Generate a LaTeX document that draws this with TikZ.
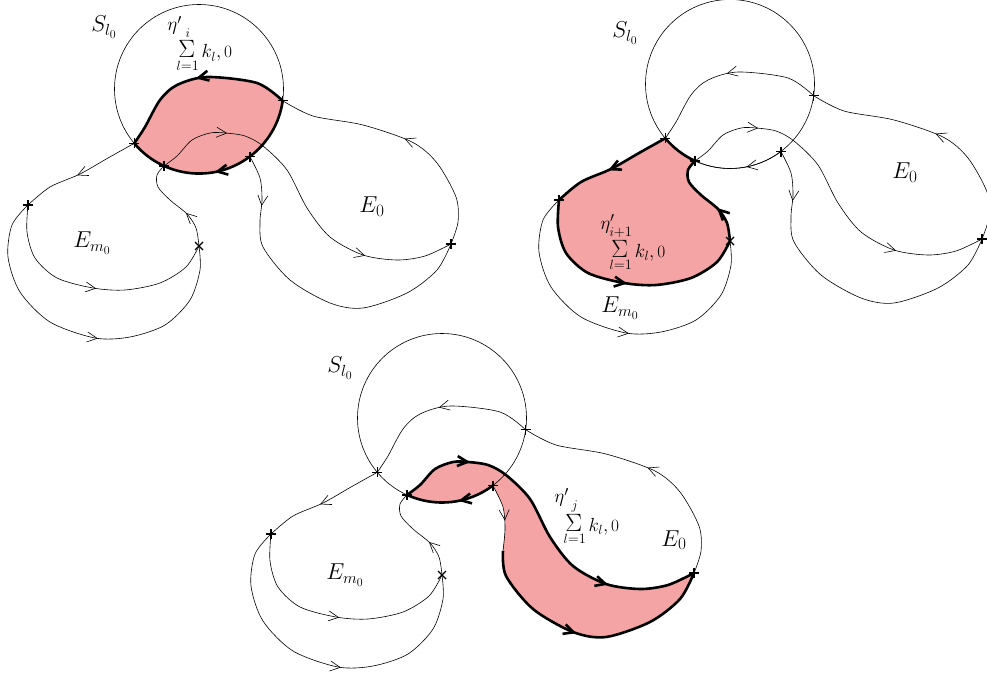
\documentclass[tikz,border=0pt]{standalone}
\usepackage{amsmath}
\usepackage{graphicx}
\DeclareFontShape{OML}{cmm}{m}{it}{<->cmmi12}{\skewchar\font'177}
\usetikzlibrary{arrows.meta,decorations.markings}
\definecolor{pinkfill}{RGB}{244,164,164}
% curve segments (panel-local pixel coordinates)
\def\cAB{plot[smooth] coordinates {(A) (145,127) (160,100) (177,85) (207,77) (257,83) (B)}}
\def\cAF{plot[smooth] coordinates {(A) (108,158) (80,174) (50,187) (F)}}
\def\cFA{plot[smooth] coordinates {(F) (50,187) (80,174) (108,158) (A)}}
\def\cFGin{plot[smooth] coordinates {(F) (27,232) (35,258) (57,278) (93,288) (125,290) (160,283) (186,267) (G)}}
\def\cGFin{plot[smooth] coordinates {(G) (186,267) (160,283) (125,290) (93,288) (57,278) (35,258) (27,232) (F)}}
\def\cFGout{plot[smooth] coordinates {(F) (12,225) (8,257) (20,292) (50,322) (95,338) (130,337) (165,325) (190,300) (200,270) (G)}}
\def\cGC{plot[smooth] coordinates {(G) (196,228) (187,214) (170,200) (158,187) (157,175) (C)}}
\def\cCG{plot[smooth] coordinates {(C) (157,175) (158,187) (170,200) (187,214) (196,228) (G)}}
\def\cCH{plot[smooth] coordinates {(C) (177,156) (192,140) (210,133) (225,133) (245,136) (263,146) (287,170) (307,208) (330,237) (363,255) (397,260) (425,256) (H)}}
\def\cDH{plot[smooth] coordinates {(D) (260,178) (262,200) (M) (263,247) (290,280) (330,303) (363,308) (407,293) (437,270) (H)}}
\def\cHD{plot[smooth] coordinates {(H) (437,270) (407,293) (363,308) (330,303) (290,280) (263,247) (M) (262,200) (260,178) (D)}}
\def\cDM{plot[smooth] coordinates {(D) (260,178) (262,200) (M)}}
\def\cMH{plot[smooth] coordinates {(M) (263,247) (290,280) (330,303) (363,308) (407,293) (437,270) (H)}}
\def\cHB{plot[smooth] coordinates {(H) (458,222) (456,197) (437,163) (412,142) (363,125) (313,116) (B)}}
\edef\LcAB{--\cAB}
\edef\LcCG{--\cCG}
\edef\LcGFin{--\cGFin}
\edef\LcFA{--\cFA}
\edef\LcHD{--\cHD}
\newcommand\basepoints{%
  \coordinate (O) at (199,89);
  \coordinate (A) at (134.3,143.3);
  \coordinate (B) at (282.7,100.8);
  \coordinate (C) at (164.0,165.9);
  \coordinate (D) at (249.9,156.5);
  \coordinate (F) at (28,205);
  \coordinate (G) at (199,246);
  \coordinate (H) at (451,244);
  \coordinate (M) at (260,222);
}
\newcommand\crossp[1]{\draw[ptm] (#1) +(-5,0) -- +(5,0) +(0,-5) -- +(0,5);}
\newcommand\crossx[1]{\draw[ptm] (#1) +(-4,-4) -- +(4,4) +(-4,4) -- +(4,-4);}
\newcommand\allcrosses{\crossp{A}\crossp{B}\crossp{C}\crossp{D}\crossp{F}\crossx{G}\crossp{H}}
\newcommand\bigsig{\mathop{\scalebox{1.45}{$\Sigma$}}}
\newcommand\etalabel[1]{$\eta'_{\textstyle\bigsig\limits_{l=1}^{#1}k_{l},0}$}
\begin{document}
\begin{tikzpicture}[x=1pt,y=-1pt,
  thinl/.style={line width=0.6pt},
  thickl/.style={line width=2.6pt},
  ptm/.style={line width=1.3pt},
  fw/.style={postaction={decorate,decoration={markings,mark=at position #1 with {\arrow{Straight Barb[length=10pt,width=10pt]}}}}},
  bw/.style={postaction={decorate,decoration={markings,mark=at position #1 with {\arrowreversed{Straight Barb[length=10pt,width=10pt]}}}}},
  lab/.style={font=\fontsize{23}{26}\selectfont, inner sep=0pt},
  etalab/.style={font=\fontsize{19}{22}\selectfont, inner sep=0pt},
  pinkarea/.style={fill=pinkfill, draw=none}]
\useasboundingbox (0,0) rectangle (987,677);

% ---------------- Panel 1 ----------------
\begin{scope}
\basepoints
\fill[pinkarea] (B) arc[start angle=8,end angle=140,radius=84.5] \LcAB -- cycle;
\draw[thinl] (O) circle[radius=84.5];
\draw[thinl,fw=0.53] \cAF;
\draw[thinl,fw=0.51] \cFGin;
\draw[thinl,fw=0.54] \cFGout;
\draw[thinl,fw=0.37] \cGC;
\draw[thinl,fw=0.21,fw=0.75] \cCH;
\draw[thinl,fw=0.157] \cDH;
\draw[thinl,fw=0.5] \cHB;
\draw[thickl,bw=0.5] \cAB;
\draw[thickl,fw=0.54] (B) arc[start angle=8,end angle=140,radius=84.5];
\allcrosses
\node[lab] (S1) at (104,27) {$S_{l_0}$};
\node[etalab] (eta1) at (200,44) {\etalabel{i}};
\node[lab] (Em1) at (92,243) {$E_{m_0}$};
\node[lab] (E1) at (372,207) {$E_0$};
\end{scope}

% ---------------- Panel 2 ----------------
\begin{scope}[shift={(531,-5)}]
\basepoints
\fill[pinkarea] (A) arc[start angle=140,end angle=114.5,radius=84.5] \LcCG \LcGFin \LcFA -- cycle;
\draw[thinl] (O) circle[radius=84.5];
\draw[thinl,bw=0.5] \cAB;
\draw[thinl,fw=0.42] (D) arc[start angle=53,end angle=114.5,radius=84.5];
\draw[thinl,fw=0.54] \cFGout;
\draw[thinl,fw=0.21,fw=0.75] \cCH;
\draw[thinl,fw=0.157] \cDH;
\draw[thinl,fw=0.5] \cHB;
\draw[thickl,fw=0.53] \cAF;
\draw[thickl,fw=0.51] \cFGin;
\draw[thickl,fw=0.37] \cGC;
\draw[thickl] (A) arc[start angle=140,end angle=114.5,radius=84.5];
\allcrosses
\node[lab] (S2) at (94,38) {$S_{l_0}$};
\node[etalab] (eta2) at (102,248) {\etalabel{i+1}};
\node[lab] (Em2) at (89,313) {$E_{m_0}$};
\node[lab] (E2) at (374,178) {$E_0$};
\end{scope}

% ---------------- Panel 3 ----------------
\begin{scope}[shift={(243,329)}]
\basepoints
\fill[pinkarea] \cCH \LcHD -- (D) arc[start angle=53,end angle=114.5,radius=84.5] -- cycle;
\draw[thinl] (O) circle[radius=84.5];
\draw[thinl,bw=0.5] \cAB;
\draw[thinl,fw=0.53] \cAF;
\draw[thinl,fw=0.51] \cFGin;
\draw[thinl,fw=0.54] \cFGout;
\draw[thinl,fw=0.37] \cGC;
\draw[thinl,fw=0.5] \cHB;
\draw[thinl,fw=0.55] \cDM;
\draw[thickl,fw=0.45] \cMH;
\draw[thickl,fw=0.21,fw=0.75] \cCH;
\draw[thickl,fw=0.42] (D) arc[start angle=53,end angle=114.5,radius=84.5];
\allcrosses
\node[lab] (S3) at (97,39) {$S_{l_0}$};
\node[etalab] (eta3) at (344,188) {\etalabel{j}};
\node[lab] (Em3) at (102,246) {$E_{m_0}$};
\node[lab] (E3) at (431,211) {$E_0$};
\end{scope}
\end{tikzpicture}
\end{document}
